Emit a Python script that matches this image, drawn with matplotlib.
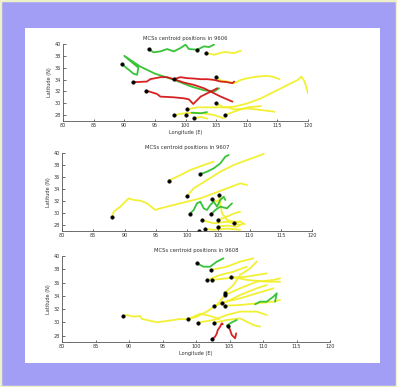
import matplotlib
matplotlib.use("Agg")
import matplotlib.pyplot as plt
from matplotlib.patches import Rectangle

# ---------------- data ----------------
titles = ["MCSs centroid positions in 9606",
          "MCSs centroid positions in 9607",
          "MCSs centroid positions in 9608"]
lon_ticks = [80, 85, 90, 95, 100, 105, 110, 115, 120]
lat_ticks = [28, 30, 32, 34, 36, 38, 40]
line_colors = {"y": "#f2f02a", "g": "#2ec02e", "r": "#d41616"}

# panel 1 tracks: (colour, lons, lats)
tracks_1 = [
    ("y", [103.40, 104.66, 106.30, 107.95, 109.04], [38.47, 38.19, 38.64, 38.47, 38.87]),
    ("y", [104.93, 105.75, 106.85, 107.95, 109.04, 110.14, 111.78, 113.42, 114.52, 115.34],
          [34.51, 33.83, 33.66, 33.38, 33.94, 34.23, 34.51, 34.62, 34.40, 34.06]),
    ("y", [104.93, 106.30, 108.00, 110.14, 112.33, 114.52, 116.71, 118.36, 118.90, 119.45, 120.0],
          [29.98, 29.30, 29.42, 29.98, 30.83, 31.96, 33.10, 33.94, 34.51, 33.66, 31.68]),
    ("y", [100.27, 101.92, 103.56, 105.20, 106.85, 107.95, 110.14, 112.33, 114.52],
          [28.96, 29.30, 29.30, 29.30, 29.30, 28.96, 29.13, 28.85, 28.57]),
    ("y", [98.08, 99.73, 101.37, 103.01, 104.66, 106.30], [28.00, 28.29, 28.40, 28.29, 28.00, 27.44]),
    ("y", [106.47, 107.95, 110.14, 112.33], [28.00, 28.60, 29.30, 29.53]),
    ("y", [101.37, 102.47, 103.56], [27.44, 27.70, 27.40]),
    ("g", [93.97, 94.79, 95.89, 96.99, 98.08, 99.18, 100.0, 100.55, 101.92, 103.01, 103.84, 104.66],
          [39.15, 38.59, 38.75, 39.15, 38.75, 39.32, 39.89, 39.15, 39.04, 39.60, 39.49, 39.89]),
    ("g", [89.6, 91.5, 92.1, 92.3, 90.0, 92.6, 95.0, 98.0, 101.0, 103.0, 104.66, 105.48],
          [36.6, 35.0, 34.8, 36.0, 38.0, 36.2, 35.0, 34.0, 32.8, 32.2, 31.96, 32.53]),
    ("g", [101.0, 102.5, 103.5], [28.40, 28.30, 28.50]),
    ("r", [91.51, 93.70, 94.25, 95.07, 95.89, 96.99, 98.08, 99.18, 100.27, 101.37, 102.47,
           103.56, 104.66, 105.75, 106.58, 107.67, 107.95],
          [33.55, 33.66, 34.06, 34.23, 34.40, 34.40, 34.06, 34.40, 34.23, 34.17, 34.06,
           34.06, 33.94, 33.66, 33.60, 33.38, 33.66]),
    ("r", [98.08, 99.73, 101.37, 103.01, 104.11, 105.75, 107.67],
          [34.06, 33.49, 33.10, 32.53, 31.96, 31.12, 30.27]),
    ("r", [93.59, 95.34, 95.89, 98.08, 99.73, 100.55, 101.26, 101.92, 102.47, 103.56, 104.11, 105.20],
          [32.13, 31.57, 31.12, 31.00, 30.83, 30.66, 29.87, 30.55, 31.12, 31.68, 31.96, 32.53]),
]
dots_lon_1 = [93.97, 101.92, 103.40, 89.6, 91.51, 93.59, 98.08, 104.93, 104.93, 98.08, 100.27, 100.0, 101.37, 106.47]
dots_lat_1 = [39.15, 39.04, 38.47, 36.6, 33.55, 32.13, 34.06, 34.51, 29.98, 28.00, 28.96, 28.00, 27.44, 28.00]

# panel 2 tracks
tracks_2 = [
    ("y", [88.0, 88.27, 89.33, 90.13, 90.67, 91.47, 92.53, 93.6, 94.93, 95.73, 97.87, 100.0,
           102.13, 104.27, 106.4, 108.53, 109.6],
          [29.27, 30.21, 31.04, 31.87, 32.42, 32.15, 32.04, 31.59, 30.49, 30.76, 31.32, 31.87,
           32.42, 33.25, 34.08, 34.91, 34.64]),
    ("y", [97.07, 98.93, 100.53, 102.67, 104.27], [35.35, 36.29, 37.12, 37.95, 38.51]),
    ("y", [100.0, 101.07, 103.2, 105.33, 107.47, 109.6, 112.27], [32.81, 34.08, 35.46, 36.85, 37.95, 38.78, 39.78]),
    ("y", [105.07, 105.33, 105.6, 106.4, 107.47, 108.53], [32.98, 31.59, 29.93, 28.83, 28.55, 28.55]),
    ("y", [104.0, 104.8, 105.6], [32.31, 31.87, 32.42]),
    ("y", [102.4, 104.3, 106.4, 108.5], [28.83, 28.27, 28.55, 28.0]),
    ("y", [104.96, 106.4, 107.5, 108.5], [28.83, 29.4, 29.9, 30.2]),
    ("y", [104.96, 106.4, 108.0, 109.0], [27.72, 27.9, 27.7, 28.3]),
    ("y", [102.93, 104.3, 106.4, 108.5], [27.33, 27.2, 27.4, 27.2]),
    ("y", [107.47, 108.5, 109.2], [28.27, 28.6, 28.1]),
    ("g", [102.03, 103.2, 104.27, 105.33, 106.13, 106.67], [36.40, 36.85, 37.40, 38.23, 39.34, 39.61]),
    ("g", [100.43, 101.07, 101.6, 102.13, 102.67, 103.2, 103.73, 104.27, 104.8, 105.33, 105.87, 106.13],
          [29.82, 30.49, 31.59, 31.87, 30.76, 30.49, 31.32, 31.87, 31.04, 32.15, 32.70, 32.15]),
    ("g", [103.89, 104.53, 105.33, 106.4, 106.93, 107.2], [29.82, 30.49, 31.04, 30.76, 31.32, 31.59]),
]
dots_lon_2 = [88.0, 97.07, 102.03, 100.0, 105.07, 104.0, 100.43, 103.89, 102.4, 104.96, 104.96, 107.47, 102.93, 101.97]
dots_lat_2 = [29.27, 35.35, 36.40, 32.81, 32.98, 32.31, 29.82, 29.82, 28.83, 28.83, 27.72, 28.27, 27.33, 27.0]

# panel 3 tracks
tracks_3 = [
    ("y", [102.21, 104.60, 106.58, 108.57], [37.89, 38.39, 39.15, 39.65]),
    ("y", [101.71, 103.60, 105.59, 107.58], [36.39, 37.14, 37.64, 38.39]),
    ("y", [102.36, 104.60, 107.58, 110.56], [36.39, 36.64, 36.89, 37.39]),
    ("y", [105.24, 107.58, 110.56, 112.55], [36.89, 36.39, 36.13, 36.13]),
    ("y", [89.09, 89.69, 90.68, 91.68, 91.93, 92.67, 94.16, 95.65, 97.64, 98.78, 100.12, 101.61, 103.11, 104.35],
          [30.96, 31.11, 30.86, 30.96, 30.51, 30.36, 30.01, 30.21, 30.51, 30.46, 30.86, 31.62, 32.62, 34.13]),
    ("y", [104.35, 105.59, 106.58, 108.07, 109.07], [34.48, 35.63, 37.14, 38.14, 39.15]),
    ("y", [104.35, 106.58, 109.07, 111.55, 112.55], [34.13, 35.13, 36.13, 36.39, 36.64]),
    ("y", [103.85, 106.58, 109.07, 111.55], [32.97, 33.62, 34.38, 35.13]),
    ("y", [102.76, 104.60, 106.58, 109.07, 110.56], [32.52, 33.12, 34.13, 35.13, 35.63]),
    ("y", [104.35, 106.58, 109.07, 111.55, 112.55], [32.52, 32.62, 32.87, 33.12, 33.37]),
    ("y", [100.27, 102.61, 104.60, 106.58, 109.07, 110.56], [29.96, 30.36, 31.11, 31.62, 31.62, 31.11]),
    ("y", [102.76, 104.60, 106.58, 108.57, 109.56], [29.96, 30.36, 30.61, 29.61, 29.36]),
    ("y", [98.78, 100.6, 102.0, 103.5], [30.46, 31.3, 31.0, 30.5]),
    ("g", [100.12, 101.12, 102.11, 103.11, 104.10], [38.90, 38.39, 38.39, 39.15, 39.65]),
    ("g", [108.82, 109.56, 110.56, 111.55, 112.05, 111.80], [32.72, 33.12, 33.12, 33.88, 34.38, 33.12]),
    ("g", [104.60, 105.34, 106.09], [29.51, 30.01, 30.36]),
    ("r", [102.36, 102.86, 103.11, 103.25, 103.60, 103.85, 104.00], [27.45, 27.85, 28.35, 28.86, 29.36, 29.86, 29.71]),
    ("r", [104.75, 105.09, 105.34, 105.84, 105.99], [29.51, 28.86, 28.11, 27.60, 28.35]),
]
dots_lon_3 = [100.12, 102.21, 101.71, 102.36, 105.24, 104.35, 104.35, 103.85, 104.35, 102.76,
              98.78, 100.27, 102.76, 104.75, 102.36, 89.09]
dots_lat_3 = [38.90, 37.89, 36.39, 36.39, 36.89, 34.48, 34.13, 32.97, 32.52, 32.52,
              30.46, 29.96, 29.96, 29.51, 27.45, 30.96]

# ---------------- figure ----------------
W, H = 397, 387
fig = plt.figure(figsize=(W / 100, H / 100), dpi=100)
fig.patch.set_facecolor("#a29ef6")
fig.patches.append(Rectangle((0, 0), 1, 1, transform=fig.transFigure, zorder=-20,
                             facecolor="none", edgecolor="#eef0c8", linewidth=2.5))
fig.patches.append(Rectangle((25 / W, 1 - 363 / H), 355 / W, 335 / H, transform=fig.transFigure,
                             zorder=-10, facecolor="white", edgecolor="none"))

rects = [
    (63 / W, 1 - 121 / H, 245 / W, 77 / H),
    (62 / W, 1 - 231 / H, 250 / W, 78.3 / H),
    (62 / W, 1 - 342.3 / H, 268 / W, 86.3 / H),
]
panels = [(tracks_1, dots_lon_1, dots_lat_1, True),
          (tracks_2, dots_lon_2, dots_lat_2, False),
          (tracks_3, dots_lon_3, dots_lat_3, True)]

for rect, title, (tracks, dlon, dlat, has_xlabel) in zip(rects, titles, panels):
    ax = fig.add_axes(rect)
    ax.set_facecolor("white")
    for key in ["y", "g", "r"]:
        for c, lo, la in tracks:
            if c == key:
                ax.plot(lo, la, color=line_colors[c], lw=1.3, solid_capstyle="round",
                        solid_joinstyle="round", alpha=0.95)
    ax.plot(dlon, dlat, "o", color="black", ms=2.6, mec="black", mew=0.3, ls="none")
    ax.set_xlim(80, 120)
    ax.set_ylim(27, 40)
    ax.set_xticks(lon_ticks)
    ax.set_yticks(lat_ticks)
    ax.tick_params(labelsize=3.5, length=1.8, width=0.5, direction="in", pad=1.5,
                   colors="#333333")
    for s in ["top", "right"]:
        ax.spines[s].set_visible(False)
    for s in ["left", "bottom"]:
        ax.spines[s].set_linewidth(0.6)
        ax.spines[s].set_color("#555555")
    ax.set_title(title, fontsize=3.8, pad=3, color="#333333")
    ax.set_ylabel("Latitude (N)", fontsize=3.6, labelpad=2, color="#333333")
    if has_xlabel:
        ax.set_xlabel("Longitude (E)", fontsize=3.6, labelpad=1.5, color="#333333")

fig.savefig("out.png", dpi=100, facecolor=fig.get_facecolor())
